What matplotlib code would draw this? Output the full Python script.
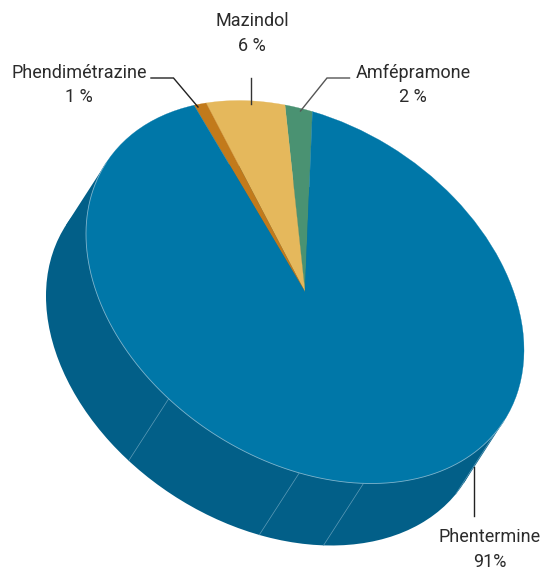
import numpy as np
import matplotlib
matplotlib.use('Agg')
from matplotlib import pyplot as plt
from matplotlib.patches import Wedge, Circle, Polygon
from matplotlib.transforms import Affine2D

# values, clockwise from the top of the pie
names = ['Amfépramone', 'Mazindol', 'Phendimétrazine', 'Phentermine']
shares = [2, 6, 1, 91]
share_labels = ['2 %', '6 %', '1 %', '91%']
colors = ['#4A9272', '#E5B85C', '#C27A1B', '#0077A8']
side_color = '#025F88'
seam_color = '#5F9CB8'

plt.rcParams['font.family'] = ['Roboto', 'Liberation Sans', 'DejaVu Sans']

fig = plt.figure(figsize=(5.43, 5.72), dpi=100)
ax = fig.add_axes([0, 0, 1, 1])
ax.set_xlim(0, 543)
ax.set_ylim(572, 0)
ax.axis('off')

# the pie is a unit circle sheared into the tilted ellipse
center = (305, 292)
depth = (-40, 62)
shear = np.array([[219, 0], [58, 182.5]])


def pie_transform(dx=0, dy=0):
    m = np.eye(3)
    m[:2, :2] = shear
    m[:2, 2] = center[0] + dx, center[1] + dy
    return Affine2D(m) + ax.transData


def on_rim(theta, dx=0, dy=0):
    p = shear @ np.array([np.cos(np.radians(theta)), np.sin(np.radians(theta))])
    return p[0] + center[0] + dx, p[1] + center[1] + dy


# rim angle where the extrusion direction is tangent to the ellipse
d = np.linalg.solve(shear, depth)
t1 = np.degrees(np.arctan2(-d[0], d[1]))
t2 = t1 + 180

# side of the pie
ax.add_patch(Circle((0, 0), 1, transform=pie_transform(*depth), fc=side_color, ec='none', zorder=1))
ax.add_patch(Polygon([on_rim(t1), on_rim(t2), on_rim(t2, *depth), on_rim(t1, *depth)],
                     fc=side_color, ec='none', zorder=1))

# seams on the side
for theta in [29.5, 74.5, 91.5, 128.5]:
    x0, y0 = on_rim(theta)
    x1, y1 = on_rim(theta, *depth)
    ax.plot([x0, x1], [y0, y1], color=seam_color, lw=0.5, zorder=2)

# top face
angle = -90 + 1.95
for share, color in zip(shares, colors):
    sweep = share * 3.6
    ax.add_patch(Wedge((0, 0), 1, angle - sweep, angle, transform=pie_transform(),
                       fc=color, ec=color, lw=0.2, zorder=3))
    angle -= sweep

# light edge along the visible front of the top face
ts = np.linspace(t1, t2, 200)
rim = np.array([on_rim(t) for t in ts])
ax.plot(rim[:, 0], rim[:, 1], color='#7FB4CC', lw=0.6, zorder=4)

# labels and leader lines
label_pos = [(413, 73, 97), (252, 21, 46), (79, 73, 97), (490, 537, 562)]
leaders = [
    ([349.5, 327, 300.5], [78, 78, 111], '#555555'),
    ([251, 251], [78, 104], '#333333'),
    ([151, 173.5, 198], [78, 78, 107], '#222222'),
    ([474, 474], [467, 516], '#222222'),
]
for name, lab, (x, y1, y2) in zip(names, share_labels, label_pos):
    ax.text(x, y1, name, ha='center', va='center', fontsize=13, color='#2B2B2B')
    ax.text(x, y2, lab, ha='center', va='center', fontsize=13, color='#2B2B2B')
for xs, ys, c in leaders:
    ax.plot(xs, ys, color=c, lw=1.0, zorder=5, solid_joinstyle='miter')

fig.savefig('out.png', dpi=100)
